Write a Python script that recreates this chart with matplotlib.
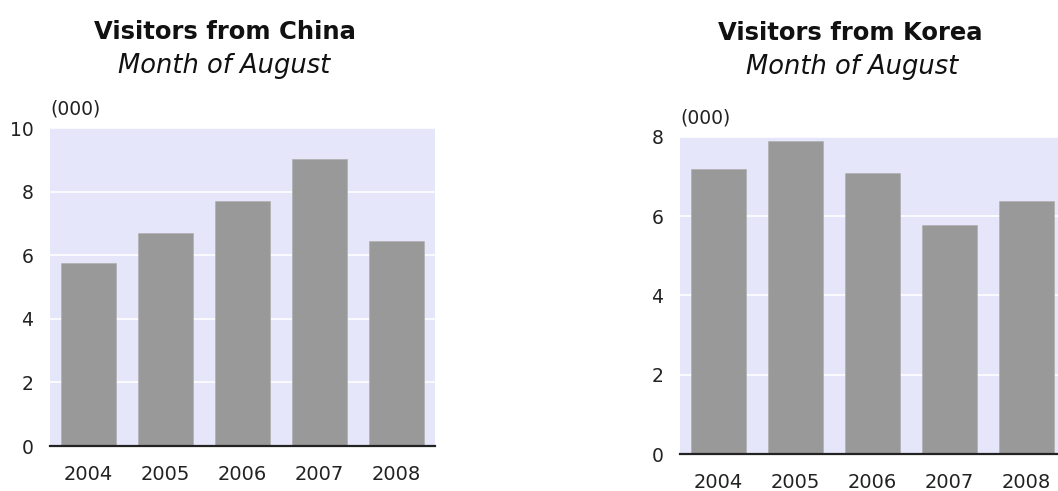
import numpy as np
from matplotlib import use
use('Agg')
import matplotlib.pyplot as plt

years = ['2004', '2005', '2006', '2007', '2008']
china = [5.74, 6.69, 7.69, 9.01, 6.44]
korea = [7.18, 7.88, 7.08, 5.77, 6.37]

china_ticks = [0, 2, 4, 6, 8, 10]
korea_ticks = [0, 2, 4, 6, 8]

bar_color = '#999999'
bg_color = '#e6e6fa'


def draw_panel(ax, values, ticks, ymax):
    x = np.arange(len(years))
    ax.set_facecolor(bg_color)
    ax.set_axisbelow(True)
    ax.grid(axis='y', color='white', linewidth=1.2)
    ax.bar(x, values, width=0.72, color=bar_color, edgecolor='#b0b0b0', linewidth=0.5, zorder=2)
    ax.set_xlim(-0.5, len(years) - 0.5)
    ax.set_ylim(0, ymax)
    ax.set_xticks(x)
    ax.set_xticklabels(years)
    ax.set_yticks(ticks)
    ax.tick_params(axis='both', length=0, colors='#222222')
    ax.tick_params(axis='x', pad=14, labelsize=14)
    ax.tick_params(axis='y', pad=12, labelsize=13.5)
    for s in ['top', 'right', 'left']:
        ax.spines[s].set_visible(False)
    ax.spines['bottom'].set_color('#222222')
    ax.spines['bottom'].set_linewidth(1.6)
    ax.spines['bottom'].set_zorder(3)
    ax.text(0, 1.03, '(000)', transform=ax.transAxes, fontsize=13.5, color='#222222',
            ha='left', va='bottom')


fig = plt.figure(figsize=(10.58, 4.91), dpi=100)

ax1 = fig.add_axes([50 / 1058, 45 / 491, 385 / 1058, 318 / 491])
draw_panel(ax1, china, china_ticks, 10)

ax2 = fig.add_axes([680 / 1058, 37 / 491, 385 / 1058, 317.3 / 491])
draw_panel(ax2, korea, korea_ticks, 8)

fig.text(225 / 1058, 1 - 39 / 491, 'Visitors from China', fontsize=17.5, fontweight='bold',
         ha='center', va='baseline', color='#111111')
fig.text(224 / 1058, 1 - 73 / 491, 'Month of August', fontsize=18.5, style='italic',
         ha='center', va='baseline', color='#111111')
fig.text(850 / 1058, 1 - 40 / 491, 'Visitors from Korea', fontsize=17.5, fontweight='bold',
         ha='center', va='baseline', color='#111111')
fig.text(852 / 1058, 1 - 74 / 491, 'Month of August', fontsize=18.5, style='italic',
         ha='center', va='baseline', color='#111111')

plt.savefig('out.png', dpi=100)
